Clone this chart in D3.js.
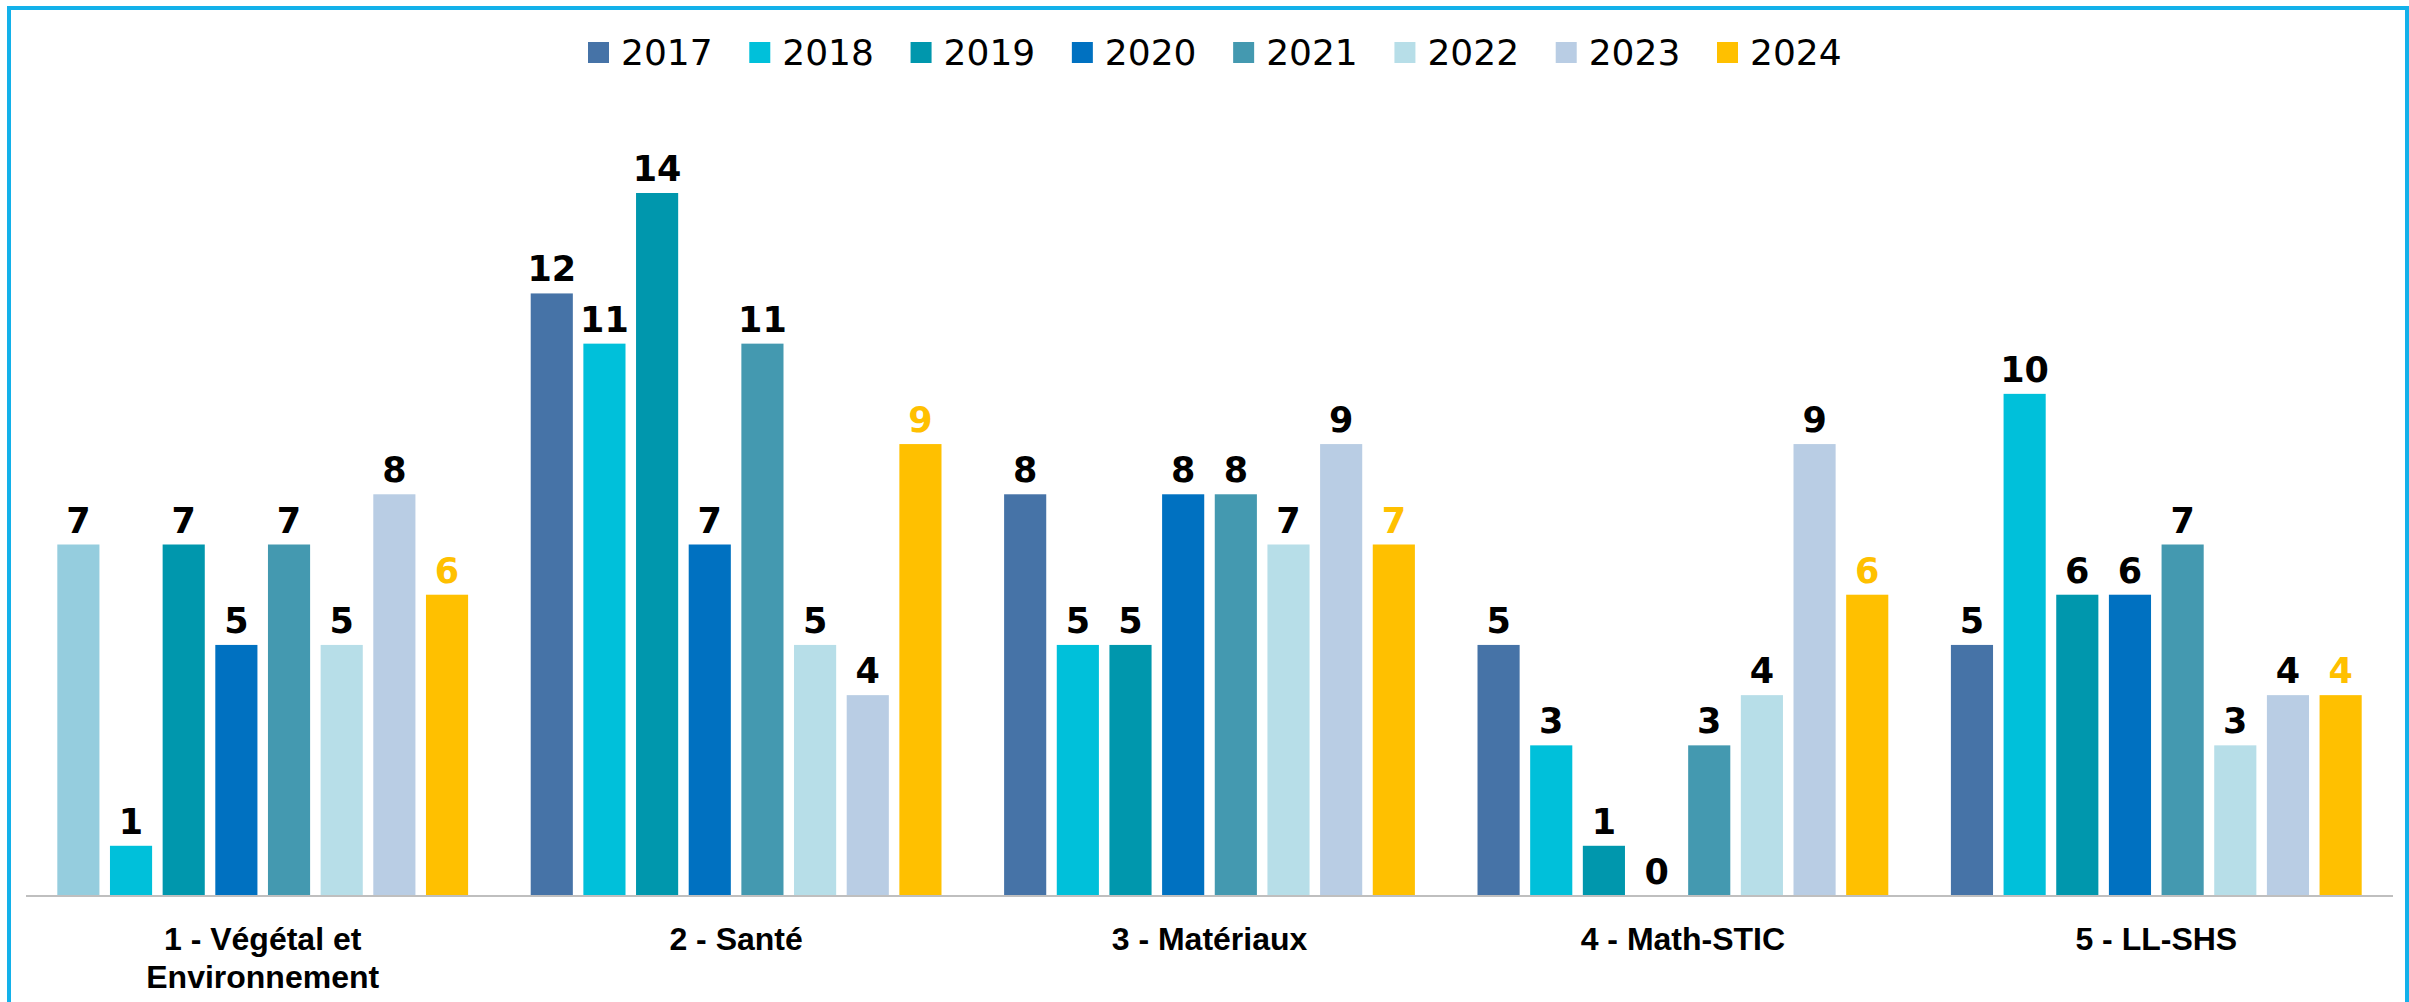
<!DOCTYPE html>
<html>
<head>
<meta charset="utf-8">
<script src="https://cdn.jsdelivr.net/npm/d3@7"></script>
<style>
  html, body { margin: 0; padding: 0; background: #fff; overflow: hidden; }
  svg { display: block; font-family: "DejaVu Sans", Verdana, sans-serif; }
</style>
</head>
<body>
<svg id="svg"></svg>
<script>
const years = ["2017", "2018", "2019", "2020", "2021", "2022", "2023", "2024"];
const poles = ["1 - Végétal et Environnement", "2 - Santé", "3 - Matériaux", "4 - Math-STIC", "5 - LL-SHS"];

// one array per year, values in the order of poles
const v2017 = [7, 12, 8, 5, 5];
const v2018 = [1, 11, 5, 3, 10];
const v2019 = [7, 14, 5, 1, 6];
const v2020 = [5, 7, 8, 0, 6];
const v2021 = [7, 11, 8, 3, 7];
const v2022 = [5, 5, 7, 4, 3];
const v2023 = [8, 4, 9, 9, 4];
const v2024 = [6, 9, 7, 6, 4];
const series = [v2017, v2018, v2019, v2020, v2021, v2022, v2023, v2024];

const colors = ["#4673A7", "#00C0DA", "#0097AD", "#0071C1", "#4499B0", "#B7DEE8", "#B9CDE4", "#FFC000"];

const width = 2409, height = 1002;
const axisY = 896;

const svg = d3.select('#svg')
  .attr('width', width)
  .attr('height', height);

// outer frame (bottom edge runs off the picture)
svg.append('rect')
  .attr('x', 9).attr('y', 8)
  .attr('width', 2398).attr('height', 1100)
  .attr('fill', 'none')
  .attr('stroke', '#13B1EA')
  .attr('stroke-width', 4);

const x0 = d3.scaleBand()
  .domain(poles)
  .range([26, 2393])
  .paddingInner(0.11)
  .paddingOuter(0.055);

const x1 = d3.scaleBand()
  .domain(years)
  .range([0, x0.bandwidth()])
  .paddingInner(0.2)
  .paddingOuter(0.1);

const y = d3.scaleLinear()
  .domain([0, 14])
  .range([axisY, axisY - 703]);

const rows = [];
poles.forEach((p, i) => {
  years.forEach((yr, j) => {
    rows.push({ pole: p, year: yr, yi: j, pi: i, value: series[j][i] });
  });
});

// the first bar of the first pole is drawn in a lighter blue in the original
function barColor(d) {
  if (d.pi === 0 && d.yi === 0) return '#95CDDE';
  return colors[d.yi];
}

svg.append('g')
  .selectAll('rect')
  .data(rows)
  .enter()
  .append('rect')
    .attr('x', d => x0(d.pole) + x1(d.year))
    .attr('y', d => y(d.value))
    .attr('width', x1.bandwidth())
    .attr('height', d => y(0) - y(d.value))
    .attr('fill', d => barColor(d));

svg.append('g')
  .selectAll('text')
  .data(rows)
  .enter()
  .append('text')
    .attr('x', d => x0(d.pole) + x1(d.year) + x1.bandwidth() / 2)
    .attr('y', d => y(d.value) - 12)
    .attr('text-anchor', 'middle')
    .attr('font-size', '35px')
    .attr('font-weight', 'bold')
    .attr('fill', d => d.yi === 7 ? '#FFC000' : '#000')
    .text(d => d.value);

// category axis
const xAxis = svg.append('g')
  .attr('transform', `translate(0,${axisY})`)
  .call(d3.axisBottom(x0).tickSize(0).tickPadding(54));
xAxis.select('.domain')
  .attr('stroke', '#BFBFBF')
  .attr('stroke-width', 2)
  .attr('d', 'M26,0H2393');
xAxis.selectAll('text')
  .attr('font-size', '32px')
  .attr('font-weight', 'bold')
  .attr('fill', '#000')
  .attr('font-family', 'inherit')
  .attr('dy', 0)
  .call(wrap, 420);

function wrap(texts, maxWidth) {
  texts.each(function() {
    const text = d3.select(this);
    const words = text.text().split(/\s+/);
    const tx = text.attr('x') || 0;
    const ty = text.attr('y');
    text.text(null);
    let line = [];
    let lineNo = 0;
    let tspan = text.append('tspan').attr('x', tx).attr('y', ty);
    words.forEach(w => {
      line.push(w);
      tspan.text(line.join(' '));
      if (tspan.node().getComputedTextLength() > maxWidth && line.length > 1) {
        line.pop();
        tspan.text(line.join(' '));
        line = [w];
        lineNo++;
        tspan = text.append('tspan')
          .attr('x', tx).attr('y', ty)
          .attr('dy', lineNo * 38)
          .text(w);
      }
    });
  });
}

// legend
const lx = d3.scalePoint().domain(years).range([588, 1717]);
const legend = svg.append('g')
  .selectAll('g')
  .data(years)
  .enter()
  .append('g')
    .attr('transform', d => `translate(${lx(d)},42)`);
legend.append('rect')
  .attr('width', 21).attr('height', 21)
  .attr('fill', (d, i) => colors[i]);
legend.append('text')
  .attr('x', 33)
  .attr('y', 23)
  .attr('font-size', '36px')
  .attr('fill', '#000')
  .text(d => d);
</script>
</body>
</html>
